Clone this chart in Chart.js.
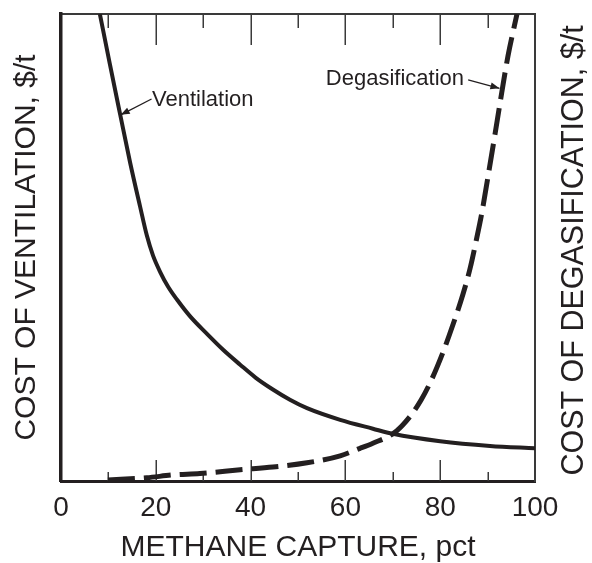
<!DOCTYPE html>
<html><head><meta charset="utf-8">
<script src="https://cdn.jsdelivr.net/npm/chart.js@4.4.1/dist/chart.umd.min.js"></script>
<style>html,body{margin:0;padding:0;background:#fff}#wrap{width:592px;height:563px}canvas{display:block}</style>
</head><body><div id="wrap"><canvas id="c" width="592" height="563"></canvas></div>
<script>
// ---- data ----
const ventCapture = [8.2, 10.3, 12.5, 14.6, 16.7, 18.1, 19.4, 20.9, 22.6, 24.5, 27.2, 30.8, 34.2, 37.8, 41.1, 44.7, 48.3, 51.9, 58.9, 65.8, 70, 80, 90.5, 100];
const ventCost    = [100, 89.3, 78.4, 68.1, 58.7, 52.6, 48.3, 44.8, 41.6, 38.8, 35.3, 31.5, 28.1, 24.9, 22.1, 19.6, 17.4, 15.6, 13.1, 11.2, 10.1, 8.5, 7.5, 7.0];
const degasCapture = [9.9, 18.1, 23.6, 29.3, 37.8, 44.7, 51.9, 58.9, 63.1, 65.8, 70.0, 72.0, 74.0, 76.0, 78.0, 80.6, 82.7, 84.8, 86.3, 87.6, 88.8, 90.3, 91.6, 92.6, 94.3, 96.2];
const degasCost    = [0.2, 0.7, 1.3, 1.6, 2.4, 3.0, 3.9, 5.4, 7.0, 8.1, 10.1, 11.9, 14.3, 17.4, 21.3, 27.6, 33.5, 40.0, 45.5, 51.5, 57.5, 66.5, 74.5, 80.8, 91.0, 100];
const xTickLabels = [0, 20, 40, 60, 80, 100];
const majorTicks = [20, 40, 60, 80];
const minorTicks = [10, 30, 50, 70, 90];
const seriesNames = ['Ventilation', 'Degasification'];
const axisTitles = {x: 'METHANE CAPTURE, pct', yLeft: 'COST OF VENTILATION, $/t', yRight: 'COST OF DEGASIFICATION, $/t'};

// ---- styling / annotation placement ----
const INK = '#231f20';
const FONT = 'Liberation Sans, Arial, Helvetica, sans-serif';
const ventNote = {text: seriesNames[0], label: [19.2, 80.3], from: [19.1, 81.8], to: [12.6, 78.4]};
const degasNote = {text: seriesNames[1], label: [84.6, 84.8], from: [85.9, 85.9], to: [92.5, 84.1]};

function pts(xs, ys) { return xs.map((v, i) => ({x: v, y: ys[i]})); }

function drawArrow(ctx, x1, y1, x2, y2) {
  ctx.beginPath(); ctx.moveTo(x1, y1); ctx.lineTo(x2, y2); ctx.stroke();
  const ang = Math.atan2(y2 - y1, x2 - x1), L = 9, W = 3.5;
  ctx.beginPath();
  ctx.moveTo(x2, y2);
  ctx.lineTo(x2 - L * Math.cos(ang) + W * Math.sin(ang), y2 - L * Math.sin(ang) - W * Math.cos(ang));
  ctx.lineTo(x2 - L * Math.cos(ang) - W * Math.sin(ang), y2 - L * Math.sin(ang) + W * Math.cos(ang));
  ctx.closePath(); ctx.fill();
}

const decor = {
  id: 'decor',
  beforeDatasetsDraw(chart) {
    const {ctx, chartArea: a, scales: {x}} = chart;
    ctx.save();
    ctx.strokeStyle = '#3a3a3a'; ctx.lineWidth = 1.5;
    const tick = (v, lb, lt) => {
      const px = Math.round(x.getPixelForValue(v)) + 0.25;
      ctx.beginPath(); ctx.moveTo(px, a.bottom); ctx.lineTo(px, a.bottom - lb); ctx.stroke();
      ctx.beginPath(); ctx.moveTo(px, a.top); ctx.lineTo(px, a.top + lt); ctx.stroke();
    };
    majorTicks.forEach(v => tick(v, 21, 31));
    minorTicks.forEach(v => tick(v, 9, 14));
    ctx.restore();
  },
  afterDatasetsDraw(chart) {
    const {ctx, scales: {x, y, y2}} = chart;
    ctx.save();
    ctx.fillStyle = INK; ctx.strokeStyle = INK; ctx.lineWidth = 1.3;
    ctx.font = '22px ' + FONT;
    ctx.textBaseline = 'alphabetic';
    ctx.textAlign = 'left';
    ctx.fillText(ventNote.text, x.getPixelForValue(ventNote.label[0]), y.getPixelForValue(ventNote.label[1]));
    drawArrow(ctx, x.getPixelForValue(ventNote.from[0]), y.getPixelForValue(ventNote.from[1]),
              x.getPixelForValue(ventNote.to[0]), y.getPixelForValue(ventNote.to[1]));
    ctx.textAlign = 'right';
    ctx.fillText(degasNote.text, x.getPixelForValue(degasNote.label[0]) + 2, y2.getPixelForValue(degasNote.label[1]));
    drawArrow(ctx, x.getPixelForValue(degasNote.from[0]), y2.getPixelForValue(degasNote.from[1]),
              x.getPixelForValue(degasNote.to[0]), y2.getPixelForValue(degasNote.to[1]));
    // right axis title, reading bottom-to-top
    const a = chart.chartArea;
    ctx.translate(574.6, (a.top + a.bottom) / 2 + 3);
    ctx.rotate(-Math.PI / 2);
    ctx.textAlign = 'center'; ctx.textBaseline = 'middle';
    ctx.font = '30.5px ' + FONT;
    ctx.fillText(axisTitles.yRight, 0, 0);
    ctx.restore();
  }
};

new Chart(document.getElementById('c'), {
  type: 'line',
  data: {
    datasets: [
      {label: seriesNames[0], data: pts(ventCapture, ventCost), yAxisID: 'y', borderColor: INK, borderWidth: 4,
       cubicInterpolationMode: 'monotone', pointRadius: 0, fill: false},
      {label: seriesNames[1], data: pts(degasCapture, degasCost), yAxisID: 'y2', borderColor: INK, borderWidth: 5,
       borderDash: [27, 9], borderCapStyle: 'butt', cubicInterpolationMode: 'monotone', pointRadius: 0, fill: false}
    ]
  },
  options: {
    responsive: false, animation: false, devicePixelRatio: 1,
    layout: {padding: {top: 14, left: 0, right: 0, bottom: 0}},
    plugins: {legend: {display: false}, tooltip: {enabled: false}},
    scales: {
      x: {type: 'linear', position: 'bottom', min: 0, max: 100,
          afterFit(s) { s.height = 82; },
          afterBuildTicks(s) { s.ticks = xTickLabels.map(v => ({value: v})); },
          ticks: {color: INK, font: {family: FONT, size: 28, lineHeight: 1.2}, padding: 10, maxRotation: 0, autoSkip: false},
          grid: {display: false, drawTicks: false},
          border: {display: true, color: INK, width: 3},
          title: {display: true, text: axisTitles.x, color: INK, font: {family: FONT, size: 30, lineHeight: 1}, padding: {top: 0, bottom: 0}}},
      x2: {type: 'linear', position: 'top', min: 0, max: 100,
           afterFit(s) { s.height = 0; },
           ticks: {display: false}, grid: {display: false, drawTicks: false},
           border: {display: true, color: '#3a3a3a', width: 2}},
      y: {type: 'linear', position: 'left', min: 0, max: 100,
          afterFit(s) { s.width = 61; },
          ticks: {display: false}, grid: {display: false, drawTicks: false},
          border: {display: true, color: INK, width: 3.5},
          title: {display: true, text: axisTitles.yLeft, color: INK, font: {family: FONT, size: 30, lineHeight: 1}, padding: {top: 12, bottom: 0}}},
      y2: {type: 'linear', position: 'right', min: 0, max: 100,
           afterFit(s) { s.width = 57; },
           ticks: {display: false}, grid: {display: false, drawTicks: false},
           border: {display: true, color: '#3a3a3a', width: 2}}
    }
  },
  plugins: [decor]
});
</script>
</body></html>
